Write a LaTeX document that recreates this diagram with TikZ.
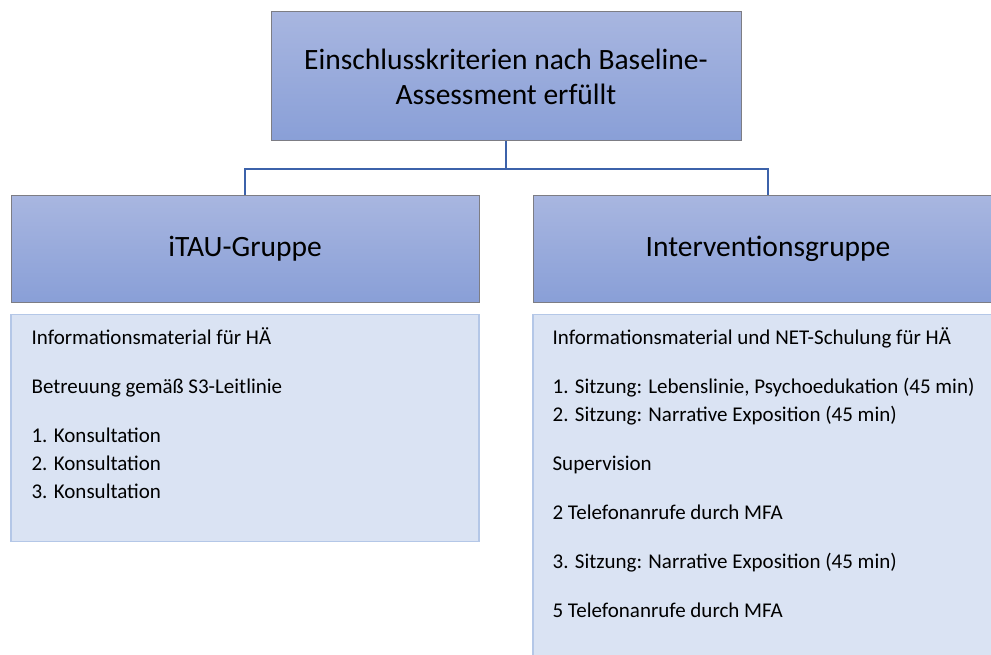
\documentclass[tikz,border=0pt]{standalone}
\usepackage{fontspec}
\setmainfont{Carlito}
\usetikzlibrary{positioning}

\definecolor{hdrtop}{RGB}{168,182,224}
\definecolor{hdrbot}{RGB}{137,159,215}
\definecolor{hdrline}{RGB}{125,125,132}
\definecolor{listfill}{RGB}{218,227,243}
\definecolor{listline}{RGB}{180,199,231}
\definecolor{linkblue}{RGB}{60,98,170}

\begin{document}
\begin{tikzpicture}[x=1pt, y=-1pt]
    \tikzstyle{header} = [rectangle, draw=hdrline, line width=1pt, top color=hdrtop, bottom color=hdrbot, inner sep=0pt, minimum height=106pt, font=\fontsize{29.5}{35}\selectfont, align=center]
    \tikzstyle{listbox} = [rectangle, draw=listline, line width=1.2pt, fill=listfill, inner sep=0pt]
    \tikzstyle{listtext} = [inner sep=0pt, align=left, anchor=north west, font=\fontsize{21}{28}\selectfont]
    \tikzstyle{link} = [draw, line width=2.6pt, linkblue]

    \clip (0,0) rectangle (991,655);

    % Nodes
    \node [header, minimum width=470pt, minimum height=129pt] (crit) at (506,76.5) {Einschlusskriterien nach Baseline-\\Assessment erfüllt};
    \node [header, minimum width=468pt] (itau) at (245,249) {iTAU-Gruppe};
    \node [header, minimum width=470pt] (interv) at (768,249) {Interventionsgruppe};

    \node [listbox, below=11pt of itau, minimum width=468pt, minimum height=227pt] (itaulist) {};
    \node [listbox, below=11pt of interv, minimum width=470pt, minimum height=380pt] (intervlist) {};

    \node [listtext, below right=14pt and 21pt of itaulist.north west] (itautext) {Informationsmaterial für HÄ\\[21pt]
        Betreuung gemäß S3-Leitlinie\\[21pt]
        1. Konsultation\\
        2. Konsultation\\
        3. Konsultation};
    \node [listtext, below right=14pt and 20pt of intervlist.north west] (intervtext) {Informationsmaterial und NET-Schulung für HÄ\\[21pt]
        1. Sitzung: Lebenslinie, Psychoedukation (45 min)\\
        2. Sitzung: Narrative Exposition (45 min)\\[21pt]
        Supervision\\[21pt]
        2 Telefonanrufe durch MFA\\[21pt]
        3. Sitzung: Narrative Exposition (45 min)\\[21pt]
        5 Telefonanrufe durch MFA};

    % Connections
    \coordinate (fork) at (506,169);
    \path [link] (crit.south) -- (fork);
    \path [link] (fork) -| (itau.north);
    \path [link] (fork) -| (interv.north);
\end{tikzpicture}
\end{document}
